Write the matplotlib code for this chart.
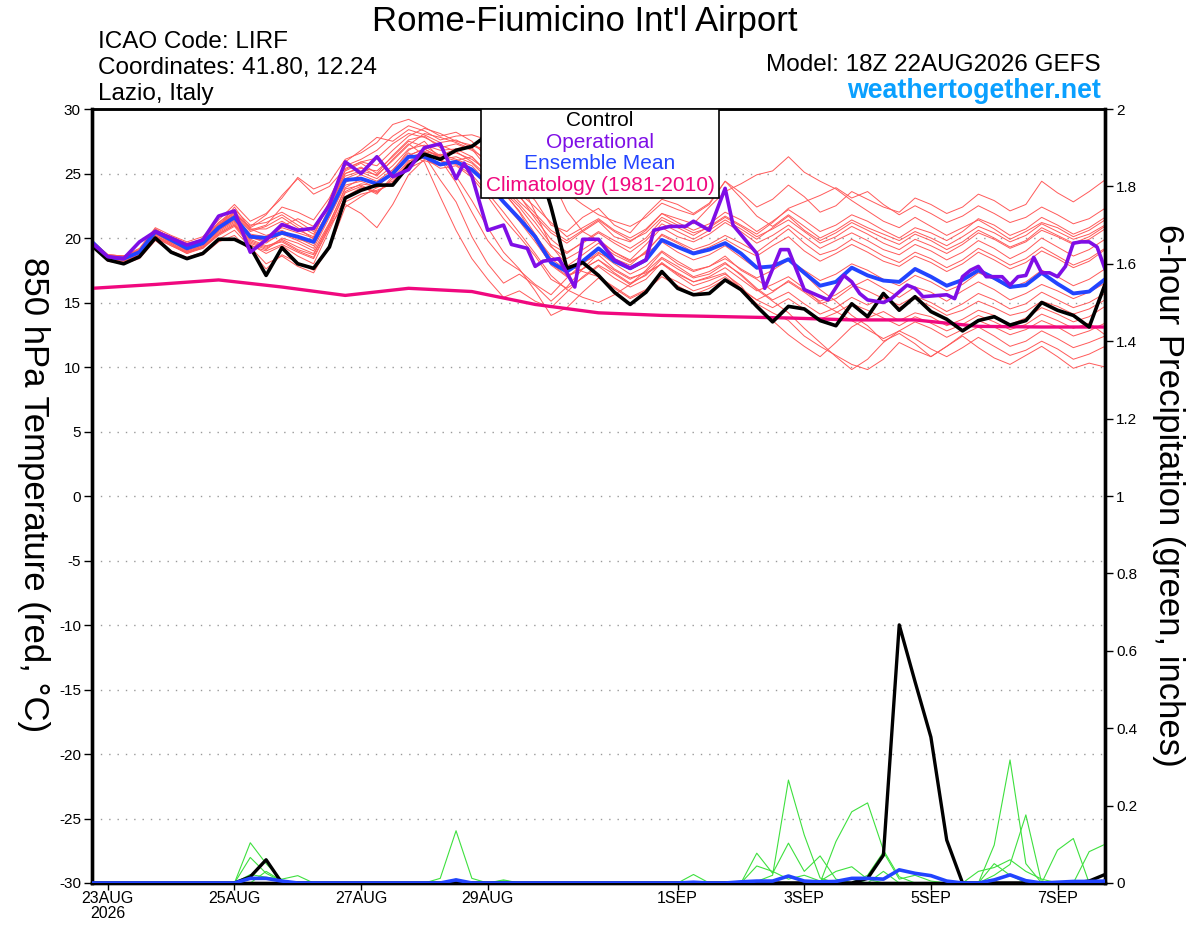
import matplotlib
matplotlib.use('Agg')
import matplotlib.pyplot as plt
from matplotlib.patches import Rectangle
import numpy as np
import pandas as pd

plt.rcParams['font.family'] = ['Liberation Sans', 'DejaVu Sans']
plt.rcParams['axes.unicode_minus'] = False

# 6-hourly steps from 22AUG2026 18Z to 07SEP2026 18Z
times = pd.date_range('2026-08-22 18:00', periods=65, freq='6h')

control_t = [19.4, 18.3, 18.0, 18.55, 20.0, 18.9, 18.4, 18.8, 19.9, 19.9, 19.3, 17.1, 19.25, 18.0, 17.65, 19.3, 23.1,
             23.7, 24.1, 24.1, 25.6, 26.5, 26.1, 26.8, 27.1,
             28.0, 28.3, 27.8, 26.5, 22.4, 17.65, 18.1, 17.1,
             15.8, 14.85, 15.8, 17.4, 16.1, 15.6, 15.7, 16.75, 16.0, 14.7, 13.5, 14.7, 14.5, 13.6, 13.2, 14.9,
             13.9, 15.7, 14.4, 15.45, 14.3, 13.7, 12.8, 13.6, 13.9, 13.25, 13.6, 15.0, 14.4, 14.0, 13.1, 16.4]

mean_t = [19.7, 18.5, 18.4, 18.9, 20.5, 19.85, 19.2, 19.6, 20.8, 21.6, 20.1, 20.0, 20.4, 20.1, 19.7, 22.0, 24.5,
          24.6, 24.2, 25.0, 26.3, 26.3, 25.7, 25.9, 25.3,
          24.2, 22.8, 21.5, 20.1, 18.1, 17.4, 18.2, 19.2,
          18.2, 17.65, 18.3, 19.85, 19.3, 18.8, 19.1, 19.6, 18.8, 17.7, 17.8, 18.35, 17.3, 16.3, 16.6, 17.7,
          17.1, 16.7, 16.6, 17.6, 17.0, 16.3, 16.75, 17.5, 16.9, 16.2, 16.35, 17.3, 16.45, 15.7, 15.85, 16.8]

# operational run (plotted at its own output hours after 22AUG 18Z)
op_hours = [0, 6, 12, 18, 24, 30, 36, 42, 48, 54, 60, 66, 72, 78, 84, 90, 96,
            102, 108, 114, 120, 126, 132, 138, 141, 144, 150, 156, 159, 165, 168, 171, 177, 183, 186, 192,
            198, 204, 210, 213, 219, 225, 228, 234, 240, 243, 252, 255, 261, 264, 270, 279, 285,
            288, 291, 294, 300, 303, 309, 312, 315, 321, 324, 327, 330, 333, 336, 339, 345, 348,
            351, 354, 357, 360, 363, 366, 369, 372, 375, 378, 381, 384]
op_t = [19.6, 18.55, 18.4, 19.7, 20.5, 20.0, 19.45, 19.85, 21.7, 22.1, 18.9, 19.85, 21.05, 20.6, 20.75, 22.55, 25.9,
        25.0, 26.3, 24.75, 25.3, 27.0, 27.3, 24.6, 25.8, 24.8, 20.6, 21.0, 19.5, 19.2, 17.8, 18.2, 18.4, 16.2, 19.9, 19.9,
        18.3, 17.65, 18.3, 20.6, 20.9, 20.9, 21.3, 20.6, 23.85, 21.0, 18.8, 16.1, 19.1, 19.1, 16.0, 15.2, 17.1,
        16.6, 15.7, 15.2, 15.0, 15.3, 16.35, 16.1, 15.45, 15.55, 15.6, 15.3, 17.0, 17.5, 17.8, 17.0, 17.0, 16.35,
        17.0, 17.1, 18.5, 17.3, 17.3, 17.0, 17.8, 19.6, 19.7, 19.7, 19.3, 17.6]

# climatology, one value per day at 18Z
clim_steps = [0, 4, 8, 12, 16, 20, 24, 28, 32, 36, 40, 44, 48, 52, 56, 60, 64]
clim_t = [16.1, 16.4, 16.75, 16.2, 15.55, 16.1, 15.85, 14.85, 14.2, 14.0, 13.9, 13.8, 13.65, 13.65, 13.15, 13.1, 13.1]

members_t = [
    [19.8, 18.7, 18.6, 19.0, 20.6, 20.1, 19.5, 19.9, 21.2, 22.0, 20.8, 21.5, 22.0, 21.3, 20.5, 22.8, 25.2,
     25.8, 25.0, 26.4, 27.6, 27.9, 27.0, 27.3, 26.8, 26.1, 25.0, 24.2, 22.9, 21.0, 20.5, 21.6, 22.3,
     21.0, 20.4, 21.8, 23.0, 22.6, 21.9, 22.7, 24.4, 23.5, 22.4, 23.0, 24.1, 23.2, 22.0, 22.5, 23.6,
     23.0, 22.4, 22.0, 23.1, 22.6, 21.9, 22.4, 23.4, 22.9, 22.1, 22.6, 24.4, 23.5, 22.8, 23.6, 24.5],
    [19.6, 18.4, 18.3, 18.8, 20.4, 19.8, 19.0, 19.5, 20.6, 21.4, 20.0, 19.8, 20.9, 21.5, 20.9, 22.6, 24.8,
     25.2, 24.9, 26.0, 27.2, 28.1, 27.8, 27.4, 26.9, 25.4, 24.1, 22.8, 21.7, 20.4, 19.6, 20.5, 21.3,
     20.1, 19.7, 20.6, 21.9, 21.5, 21.1, 22.4, 23.6, 24.2, 24.9, 25.2, 26.3, 25.1, 24.4, 23.8, 22.9,
     22.1, 21.3, 20.8, 21.6, 20.9, 20.2, 20.8, 21.4, 20.7, 19.9, 20.5, 21.2, 20.8, 20.1, 20.6, 21.4],
    [19.5, 18.3, 18.2, 18.7, 20.2, 19.5, 18.9, 19.3, 20.4, 21.1, 19.6, 19.1, 20.0, 19.6, 19.0, 21.2, 23.8,
     24.1, 23.5, 24.6, 26.0, 26.2, 25.4, 25.6, 24.7, 23.2, 21.5, 20.1, 18.6, 16.8, 16.1, 16.9, 17.8,
     16.9, 16.2, 16.8, 18.1, 17.2, 16.6, 16.9, 17.3, 16.1, 14.9, 14.2, 13.6, 12.4, 11.6, 10.9, 10.2,
     9.8, 10.6, 11.9, 11.3, 10.8, 11.6, 12.4, 11.5, 10.7, 10.2, 10.9, 11.6, 10.8, 9.9, 10.3, 10.0],
    [19.7, 18.5, 18.4, 18.9, 20.5, 19.8, 19.2, 19.6, 20.9, 22.4, 20.7, 20.2, 20.6, 20.0, 19.4, 21.8, 24.3,
     24.9, 24.4, 25.3, 26.6, 25.9, 23.2, 20.6, 18.4, 16.8, 15.4, 15.9, 15.1, 14.6, 15.8, 17.0, 17.9,
     17.2, 16.4, 17.5, 18.9, 18.0, 17.4, 17.8, 18.6, 17.5, 16.8, 15.9, 16.6, 15.8, 14.9, 15.3, 16.2,
     16.8, 16.1, 15.4, 16.2, 15.8, 15.1, 15.9, 16.6, 16.0, 15.2, 15.7, 16.4, 15.9, 15.3, 15.8, 16.5],
    [19.6, 18.6, 18.5, 19.1, 20.7, 20.0, 19.5, 19.8, 21.0, 21.8, 20.5, 20.9, 21.6, 20.8, 19.9, 22.3, 25.0,
     25.5, 24.8, 26.1, 27.3, 26.4, 24.5, 22.8, 20.1, 18.0, 16.5, 17.2, 16.3, 15.1, 16.2, 17.6, 18.8,
     18.4, 17.9, 19.0, 20.2, 19.6, 18.9, 19.3, 19.9, 19.2, 18.6, 19.4, 20.1, 19.0, 18.2, 18.8, 19.5,
     18.9, 18.2, 17.8, 18.6, 18.1, 17.4, 18.0, 18.9, 18.3, 17.6, 18.1, 19.0, 18.4, 17.7, 18.2, 19.1],
    [19.8, 18.6, 18.5, 19.0, 20.5, 19.9, 19.4, 19.8, 21.1, 21.9, 20.6, 21.0, 22.4, 22.0, 21.4, 23.1, 25.6,
     26.1, 26.8, 27.9, 28.7, 28.3, 27.6, 27.9, 28.0, 27.6, 26.9, 27.1, 25.4, 24.7, 22.1, 20.5, 19.8,
     18.9, 18.3, 19.5, 20.8, 20.1, 19.7, 20.3, 21.2, 20.5, 19.6, 20.2, 21.0, 20.1, 19.2, 19.8, 20.4,
     19.8, 19.1, 18.7, 19.5, 19.0, 18.3, 18.9, 19.8, 19.2, 18.4, 19.0, 20.0, 19.3, 18.6, 19.1, 19.9],
    [19.5, 18.4, 18.4, 18.8, 20.4, 19.7, 19.1, 19.5, 20.7, 21.5, 20.1, 19.6, 20.4, 19.9, 19.6, 22.4, 25.3,
     25.9, 25.6, 26.8, 27.9, 28.5, 28.1, 27.5, 27.2, 26.8, 26.3, 25.9, 25.6, 24.8, 23.5, 22.6, 21.8,
     21.3, 20.9, 21.6, 22.7, 22.2, 21.8, 22.6, 24.4, 23.1, 21.7, 20.9, 21.8, 20.9, 20.0, 20.6, 21.4,
     20.8, 20.3, 19.8, 20.5, 20.0, 19.4, 20.1, 20.9, 20.4, 19.7, 20.2, 21.1, 20.5, 19.9, 20.3, 21.0],
    [19.4, 18.3, 18.1, 18.6, 20.1, 19.4, 18.8, 19.2, 20.3, 21.0, 19.5, 18.8, 19.4, 18.6, 18.0, 20.6, 23.2,
     23.9, 23.6, 24.3, 25.8, 26.4, 26.1, 26.3, 25.8, 24.6, 23.5, 22.1, 20.3, 18.4, 17.5, 18.1, 18.7,
     17.6, 16.9, 17.3, 18.0, 17.1, 16.3, 16.7, 17.2, 16.3, 14.7, 13.6, 12.5, 11.6, 10.8, 11.9, 13.1,
     13.8, 14.3, 13.6, 14.2, 13.9, 13.2, 13.7, 14.4, 14.0, 13.3, 13.8, 14.6, 14.1, 13.5, 13.9, 14.7],
    [19.7, 18.4, 18.3, 18.9, 20.3, 19.7, 19.1, 19.6, 20.8, 21.6, 20.2, 19.7, 20.3, 19.8, 19.2, 21.6, 24.1,
     24.4, 23.9, 25.1, 26.4, 26.9, 26.2, 24.8, 22.9, 20.8, 18.9, 17.6, 15.9, 14.0, 14.6, 15.8, 16.9,
     16.1, 15.3, 15.9, 17.0, 16.3, 15.6, 16.1, 16.8, 16.0, 15.2, 15.8, 16.7, 15.9, 15.1, 15.6, 16.4,
     15.9, 15.3, 14.8, 15.5, 15.0, 14.3, 14.9, 15.7, 15.2, 14.5, 14.9, 15.8, 15.2, 14.6, 15.0, 15.7],
    [19.6, 18.5, 18.3, 18.9, 20.4, 19.6, 18.9, 19.4, 20.6, 21.3, 19.9, 19.4, 19.7, 19.0, 18.5, 20.9, 22.6,
     21.9, 20.8, 22.6, 24.9, 26.1, 26.5, 26.1, 25.6, 24.3, 22.9, 21.6, 20.2, 18.6, 17.8, 18.7, 19.6,
     18.7, 18.1, 18.9, 20.3, 19.7, 19.1, 19.5, 20.2, 19.6, 18.9, 19.8, 20.7, 19.6, 18.7, 19.1, 19.9,
     19.3, 18.6, 18.1, 18.9, 18.4, 17.7, 18.3, 19.2, 18.6, 17.9, 18.4, 19.3, 18.6, 17.9, 18.4, 19.2],
    [19.8, 18.7, 18.6, 19.2, 20.8, 20.2, 19.7, 20.1, 21.4, 22.6, 21.3, 21.9, 23.1, 24.7, 23.8, 24.3, 26.1,
     26.6, 27.4, 28.8, 29.2, 28.6, 27.9, 28.2, 27.5, 26.2, 24.8, 23.3, 21.5, 19.9, 18.9, 19.6, 20.4,
     19.6, 18.9, 19.8, 21.1, 20.5, 19.9, 20.6, 21.4, 20.7, 19.9, 20.8, 21.7, 20.6, 19.8, 20.4, 21.2,
     20.6, 20.0, 19.5, 20.3, 19.8, 19.1, 19.7, 20.6, 20.0, 19.3, 19.8, 20.8, 20.2, 19.6, 20.1, 20.9],
    [19.7, 18.6, 18.5, 19.0, 20.6, 20.0, 19.4, 19.8, 21.0, 21.8, 20.9, 21.8, 23.3, 24.6, 23.4, 24.0, 25.4,
     25.9, 26.2, 27.3, 28.1, 27.8, 27.2, 26.7, 25.9, 24.8, 23.6, 22.4, 20.8, 19.3, 18.4, 19.1, 19.9,
     18.9, 18.2, 18.8, 19.7, 18.9, 18.3, 18.7, 19.4, 18.5, 17.6, 17.9, 18.4, 17.2, 16.0, 15.1, 14.0,
     13.2, 12.0, 12.6, 11.8, 10.8, 11.6, 12.5, 13.1, 12.4, 11.6, 12.0, 12.8, 12.2, 11.5, 11.9, 12.4],
    [19.5, 18.3, 18.0, 18.5, 19.9, 19.0, 18.5, 18.9, 19.9, 20.6, 19.3, 18.0, 18.6, 17.8, 17.3, 19.5, 22.8,
     23.4, 23.7, 24.2, 25.4, 26.0, 25.6, 26.0, 26.3, 25.1, 23.6, 22.0, 19.9, 17.9, 17.0, 17.6, 18.3,
     17.3, 16.5, 17.1, 18.4, 17.6, 16.9, 17.2, 18.0, 17.2, 16.1, 15.2, 15.8, 14.9, 14.1, 14.6, 15.4,
     14.8, 15.4, 14.6, 15.3, 14.7, 14.0, 14.4, 15.1, 14.6, 14.0, 14.3, 15.1, 14.7, 14.1, 14.5, 15.2],
    [19.6, 18.5, 18.4, 18.8, 20.3, 19.8, 19.2, 19.7, 20.9, 21.7, 20.3, 20.1, 20.8, 20.4, 20.0, 22.2, 24.6,
     25.1, 24.6, 25.6, 26.9, 27.2, 26.8, 26.9, 26.3, 25.0, 23.8, 22.6, 21.2, 19.5, 18.8, 19.7, 20.5,
     19.8, 19.2, 20.0, 21.4, 20.8, 20.2, 20.9, 21.7, 21.0, 20.3, 21.2, 22.3, 22.8, 23.3, 23.9, 23.1,
     23.6, 22.6, 21.8, 22.5, 21.9, 21.2, 21.7, 22.5, 21.9, 21.2, 21.6, 22.4, 21.8, 21.1, 21.5, 22.3],
    [19.7, 18.5, 18.3, 18.8, 20.2, 19.6, 19.0, 19.4, 20.5, 21.2, 19.8, 19.3, 19.9, 19.3, 18.8, 21.0, 23.5,
     24.0, 23.4, 24.8, 26.2, 26.7, 26.0, 25.7, 24.9, 23.5, 22.0, 20.4, 18.8, 17.1, 16.0, 15.4, 15.0,
     15.6, 16.4, 17.2, 18.0, 17.3, 16.6, 17.0, 17.7, 16.8, 15.9, 16.4, 17.0, 16.1, 15.0, 14.3, 13.6,
     12.9, 12.2, 12.8, 13.5, 13.0, 12.3, 12.9, 13.6, 13.1, 12.5, 12.9, 13.6, 13.1, 12.4, 12.8, 13.4],
    [19.6, 18.6, 18.6, 19.1, 20.6, 20.1, 19.6, 19.9, 21.2, 22.2, 21.0, 21.2, 21.8, 21.0, 20.3, 22.7, 25.0,
     25.4, 25.2, 26.3, 27.5, 27.1, 26.4, 26.6, 26.1, 25.2, 24.3, 23.5, 22.4, 21.2, 20.1, 20.8, 21.5,
     20.6, 20.0, 20.7, 21.9, 21.2, 20.6, 21.1, 22.0, 21.4, 20.5, 21.3, 22.2, 21.4, 20.5, 21.0, 21.8,
     21.3, 20.6, 20.0, 20.8, 20.4, 19.8, 20.5, 21.5, 21.0, 20.2, 20.7, 21.6, 21.0, 20.3, 20.8, 21.6],
    [19.5, 18.4, 18.2, 18.7, 20.0, 19.4, 18.9, 19.2, 20.2, 20.9, 19.4, 19.0, 19.5, 18.9, 18.4, 20.8, 23.6,
     24.2, 24.0, 25.2, 26.8, 27.5, 26.1, 24.3, 22.0, 19.8, 18.3, 17.5, 16.4, 15.6, 16.9, 18.0, 18.9,
     18.0, 17.2, 17.8, 19.0, 18.2, 17.5, 17.8, 18.4, 17.6, 16.9, 17.5, 18.3, 17.5, 16.7, 17.2, 18.0,
     17.5, 16.8, 16.3, 17.1, 16.6, 15.9, 16.4, 17.3, 16.8, 16.1, 16.6, 17.5, 17.0, 16.3, 16.8, 17.6],
    [19.6, 18.4, 18.2, 18.7, 20.1, 19.5, 18.8, 19.3, 20.3, 21.0, 19.7, 19.2, 19.8, 19.1, 18.7, 21.1, 23.9,
     24.6, 24.1, 25.0, 26.4, 26.9, 26.3, 26.0, 25.4, 24.0, 22.7, 21.3, 19.7, 18.0, 17.1, 17.6, 18.3,
     17.5, 16.8, 17.4, 18.5, 17.8, 17.0, 17.4, 18.1, 17.1, 16.0, 15.1, 14.2, 13.0, 11.9, 10.8, 9.8,
     10.6, 11.9, 12.8, 12.2, 11.4, 10.8, 11.5, 12.3, 11.6, 10.9, 11.3, 12.0, 11.4, 10.6, 11.0, 11.6],
    [19.8, 18.7, 18.6, 19.1, 20.7, 20.0, 19.5, 19.9, 21.0, 22.0, 20.7, 20.7, 21.3, 20.6, 20.1, 22.9, 25.9,
     26.8, 27.8, 27.5, 28.4, 28.0, 27.4, 27.6, 27.0, 25.8, 24.6, 23.2, 21.9, 20.6, 19.8, 20.6, 21.4,
     20.5, 19.8, 20.4, 21.6, 21.0, 20.4, 20.8, 21.6, 20.9, 20.1, 20.7, 21.4, 20.5, 19.6, 20.1, 20.9,
     20.3, 19.6, 19.1, 19.9, 19.4, 18.8, 19.5, 20.4, 19.9, 19.2, 19.7, 20.6, 20.1, 19.5, 19.9, 20.7],
    [19.4, 18.2, 18.0, 18.4, 19.8, 18.9, 18.4, 18.7, 19.7, 20.2, 19.0, 17.6, 18.7, 18.1, 17.5, 19.2, 22.4,
     23.2, 23.9, 24.4, 25.9, 26.7, 26.4, 26.9, 27.2, 26.6, 25.7, 24.5, 22.0, 19.4, 17.9, 17.4, 17.0,
     16.2, 15.4, 16.0, 17.2, 16.6, 15.9, 16.3, 17.0, 16.1, 15.2, 14.6, 15.3, 14.5, 13.7, 14.2, 14.9,
     14.4, 13.8, 13.2, 13.9, 13.4, 12.8, 13.3, 14.0, 13.5, 12.9, 13.3, 14.1, 13.6, 13.0, 13.4, 12.5],
]

# 6-hour precipitation (inches): nonzero (step, value) pairs for each member
members_p = [
    [(10, 0.104), (11, 0.05), (12, 0.007)],
    [(10, 0.066), (11, 0.025), (12, 0.004)],
    [(10, 0.022), (11, 0.015), (12, 0.01), (13, 0.019)],
    [(11, 0.03), (12, 0.005)],
    [(22, 0.012), (23, 0.135), (24, 0.012), (26, 0.008)],
    [(23, 0.01), (26, 0.006)],
    [(38, 0.022)],
    [(42, 0.004), (43, 0.02), (44, 0.266), (45, 0.124), (46, 0.013)],
    [(42, 0.077), (43, 0.025), (44, 0.103), (45, 0.03), (46, 0.07), (47, 0.01)],
    [(42, 0.044), (43, 0.03), (44, 0.01), (45, 0.02), (46, 0.005), (47, 0.03), (48, 0.042), (49, 0.01)],
    [(47, 0.107), (48, 0.184), (49, 0.207), (50, 0.085), (51, 0.016)],
    [(49, 0.02), (50, 0.08), (51, 0.01), (52, 0.02), (53, 0.005)],
    [(57, 0.098), (58, 0.318), (59, 0.05)],
    [(57, 0.02), (58, 0.048), (59, 0.176)],
    [(56, 0.03), (57, 0.04), (58, 0.06), (59, 0.03), (60, 0.01)],
    [(61, 0.085), (62, 0.115)],
    [(63, 0.081), (64, 0.1)],
    [(57, 0.05), (58, 0.02)],
    [(48, 0.01), (50, 0.03)],
    [],
]
control_p = [(10, 0.016), (11, 0.06), (49, 0.012), (50, 0.072), (51, 0.667), (52, 0.52),
             (53, 0.377), (54, 0.111), (63, 0.005), (64, 0.022)]
mean_p = [(10, 0.012), (11, 0.012), (12, 0.005), (23, 0.008), (38, 0.002), (41, 0.003), (42, 0.005),
          (43, 0.005), (44, 0.018), (45, 0.005), (46, 0.003), (47, 0.004), (48, 0.012), (49, 0.012),
          (50, 0.01), (51, 0.034), (52, 0.025), (53, 0.019), (54, 0.005), (57, 0.008), (58, 0.021),
          (59, 0.006), (61, 0.002), (62, 0.004), (63, 0.004), (64, 0.005)]

tick_dates = ['2026-08-23', '2026-08-25', '2026-08-27', '2026-08-29',
              '2026-09-01', '2026-09-03', '2026-09-05', '2026-09-07']
tick_labels = ['23AUG\n2026', '25AUG', '27AUG', '29AUG', '1SEP', '3SEP', '5SEP', '7SEP']


def series(pairs):
    s = np.zeros(len(times))
    for k, v in pairs:
        s[k] = v
    return s


fig = plt.figure(figsize=(12, 9.27), dpi=100)
ax = fig.add_axes([92 / 1200, 1 - 883 / 927, 1013 / 1200, 774 / 927])
ax2 = ax.twinx()

for m in members_t:
    ax.plot(times, m, color='#ff5a5a', lw=0.7, zorder=2)
ax.plot(times[clim_steps], clim_t, color='#f0087f', lw=2.4, zorder=3)
ax.plot(times, mean_t, color='#2244ff', lw=2.8, zorder=4)
ax.plot(times, control_t, color='black', lw=2.6, zorder=5)
op_times = times[0] + pd.to_timedelta(op_hours, unit='h')
ax.plot(op_times, op_t, color='#7f0ee6', lw=2.6, zorder=6)

for m in members_p:
    ax2.plot(times, series(m), color='#3ee03e', lw=0.8, zorder=2)
ax2.plot(times, series(control_p), color='black', lw=2.4, zorder=3)
ax2.plot(times, series(mean_p), color='#2244ff', lw=2.6, zorder=4)

ax.set_xlim(times[0], times[-1])
ax.set_ylim(-30, 30)
ax2.set_ylim(0, 2)
ax.set_yticks(np.arange(-30, 31, 5))
ax2.set_yticks(np.arange(0, 2.01, 0.2))
ax2.set_yticklabels(['0', '0.2', '0.4', '0.6', '0.8', '1', '1.2', '1.4', '1.6', '1.8', '2'])
ax.set_xticks(pd.to_datetime(tick_dates))
ax.set_xticklabels(tick_labels, linespacing=1.0)

ax.yaxis.grid(True, linestyle=(0, (1, 5)), color='#999999', lw=1.0)
ax.set_axisbelow(True)

ax.tick_params(axis='y', direction='out', length=6, width=1, labelsize=11, pad=2)
ax2.tick_params(axis='y', direction='out', length=6, width=1, labelsize=11, pad=2)
ax.tick_params(axis='x', direction='out', length=5, width=1, labelsize=11.5, pad=1)
for a in (ax, ax2):
    a.spines['left'].set_linewidth(2.4)
    a.spines['bottom'].set_linewidth(2.4)
    a.spines['right'].set_linewidth(2.4)
    a.spines['top'].set_linewidth(1.8)

fig.text(33 / 1200, 1 - 495 / 927, '850 hPa Temperature (red, \u00b0C)', fontsize=25,
         rotation=270, ha='center', va='center')
fig.text(1168 / 1200, 1 - 495 / 927, '6-hour Precipitation (green, inches)', fontsize=25,
         rotation=270, ha='center', va='center')

# legend box
box = Rectangle((0.384, 0.885), 0.235, 0.115, transform=ax2.transAxes, facecolor='white',
                edgecolor='black', lw=1.2, zorder=10)
ax2.add_patch(box)
leg_items = [('Control', 'black'), ('Operational', '#7f0ee6'), ('Ensemble Mean', '#2244ff'),
             ('Climatology (1981-2010)', '#f0087f')]
for k, (txt, col) in enumerate(leg_items):
    ax2.text(0.5015, 0.985 - k * 0.028, txt, color=col, fontsize=15, ha='center', va='center',
             transform=ax2.transAxes, zorder=11)

fig.text(0.4875, 1 - 21 / 927, "Rome-Fiumicino Int'l Airport", fontsize=25, ha='center', va='center')
fig.text(98 / 1200, 1 - 42 / 927, 'ICAO Code: LIRF', fontsize=17.5, ha='left', va='center')
fig.text(98 / 1200, 1 - 68 / 927, 'Coordinates: 41.80, 12.24', fontsize=17.5, ha='left', va='center')
fig.text(98 / 1200, 1 - 94 / 927, 'Lazio, Italy', fontsize=17.5, ha='left', va='center')
fig.text(1101 / 1200, 1 - 65 / 927, 'Model: 18Z 22AUG2026 GEFS', fontsize=17.5, ha='right', va='center')
fig.text(1101 / 1200, 1 - 91 / 927, 'weathertogether.net', fontsize=19.3, fontweight='bold',
         color='#0aa0ff', ha='right', va='center')

fig.savefig('out.png', dpi=100)
